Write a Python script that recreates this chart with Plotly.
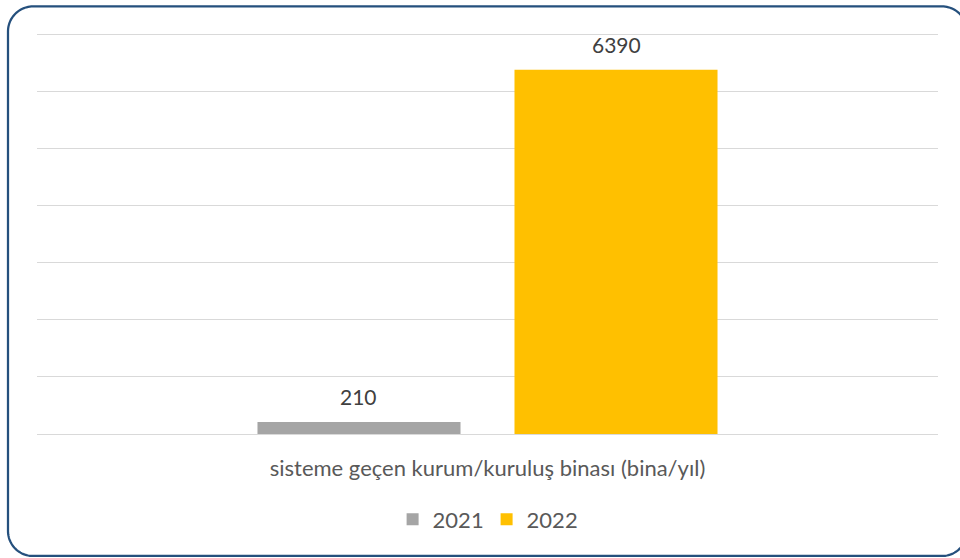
import math
import plotly.graph_objects as go

# Data
category = ["sisteme geçen kurum/kuruluş binası (bina/yıl)"]
years = ["2021", "2022"]
values_2021 = [210]
values_2022 = [6390]
colors = {"2021": "#A5A5A5", "2022": "#FFC000"}

FONT = "Lato"
W, H = 960, 558
L, R, T, B = 37, 22, 31.6, 123.7
PW, PH = W - L - R, H - T - B

fig = go.Figure()
for yr, vals in zip(years, [values_2021, values_2022]):
    fig.add_trace(go.Bar(
        name=yr, x=category, y=vals,
        marker=dict(color=colors[yr], line=dict(width=0)),
        hoverinfo="skip",
    ))

bargap = 0.4295
bargroupgap = 0.21
slot = PW * (1 - bargap) / 2

# value labels above each bar
for i, vals in enumerate([values_2021, values_2022]):
    fig.add_annotation(
        x=category[0], y=vals[0], text=str(vals[0]),
        showarrow=False, yanchor="bottom", yshift=11,
        xshift=(i - 0.5) * slot,
        font=dict(family=FONT, size=21, color="#404040"),
    )

# rounded frame around the chart; its right side lies past the page edge,
# so only the visible part of the right-hand corners is traced
def px(x):
    return (x - L) / PW

def py(y):
    return (H - B - y) / PH

x0, y0, x1, y1, r = 8, 6, 967, 556.5, 25


def arc(cx, cy, a0, a1, n=24, xmax=W + 1):
    pts = []
    for k in range(n + 1):
        a = math.radians(a0 + (a1 - a0) * k / n)
        x, y = cx + r * math.cos(a), cy + r * math.sin(a)
        if x <= xmax:
            pts.append((x, y))
    return pts


pts = []
pts += list(reversed(arc(x1 - r, y0 + r, -90, 0)))  # top-right corner, visible part
pts += arc(x0 + r, y0 + r, -90, -180)               # top-left
pts += arc(x0 + r, y1 - r, 180, 90)                 # bottom-left
pts += arc(x1 - r, y1 - r, 90, 0)                   # bottom-right, visible part
path = "M " + " L ".join(f"{px(x):.5f},{py(y):.5f}" for x, y in pts)
fig.add_shape(type="path", path=path, xref="paper", yref="paper",
              line=dict(color="#25507D", width=2.25), layer="above")

fig.update_layout(
    width=W, height=H,
    margin=dict(l=L, r=R, t=T, b=B),
    paper_bgcolor="white", plot_bgcolor="white",
    barmode="group", bargap=bargap, bargroupgap=bargroupgap,
    showlegend=True,
    legend=dict(orientation="h", xanchor="center", x=0.499,
                yanchor="middle", y=py(520), itemwidth=30,
                entrywidth=49,
                font=dict(family=FONT, size=22, color="#595959"),
                traceorder="normal"),
    font=dict(family=FONT, size=22, color="#595959"),
)
fig.update_xaxes(showgrid=False, showline=False, zeroline=False,
                 ticklabelstandoff=19,
                 tickfont=dict(family=FONT, size=22, color="#595959"))
fig.update_yaxes(range=[0, 7050], tickvals=[0, 1000, 2000, 3000, 4000, 5000, 6000, 7000],
                 showticklabels=False,
                 gridcolor="#D9D9D9", gridwidth=1.3,
                 zeroline=True, zerolinecolor="#D9D9D9", zerolinewidth=1.3)

fig.write_html("out.html")
